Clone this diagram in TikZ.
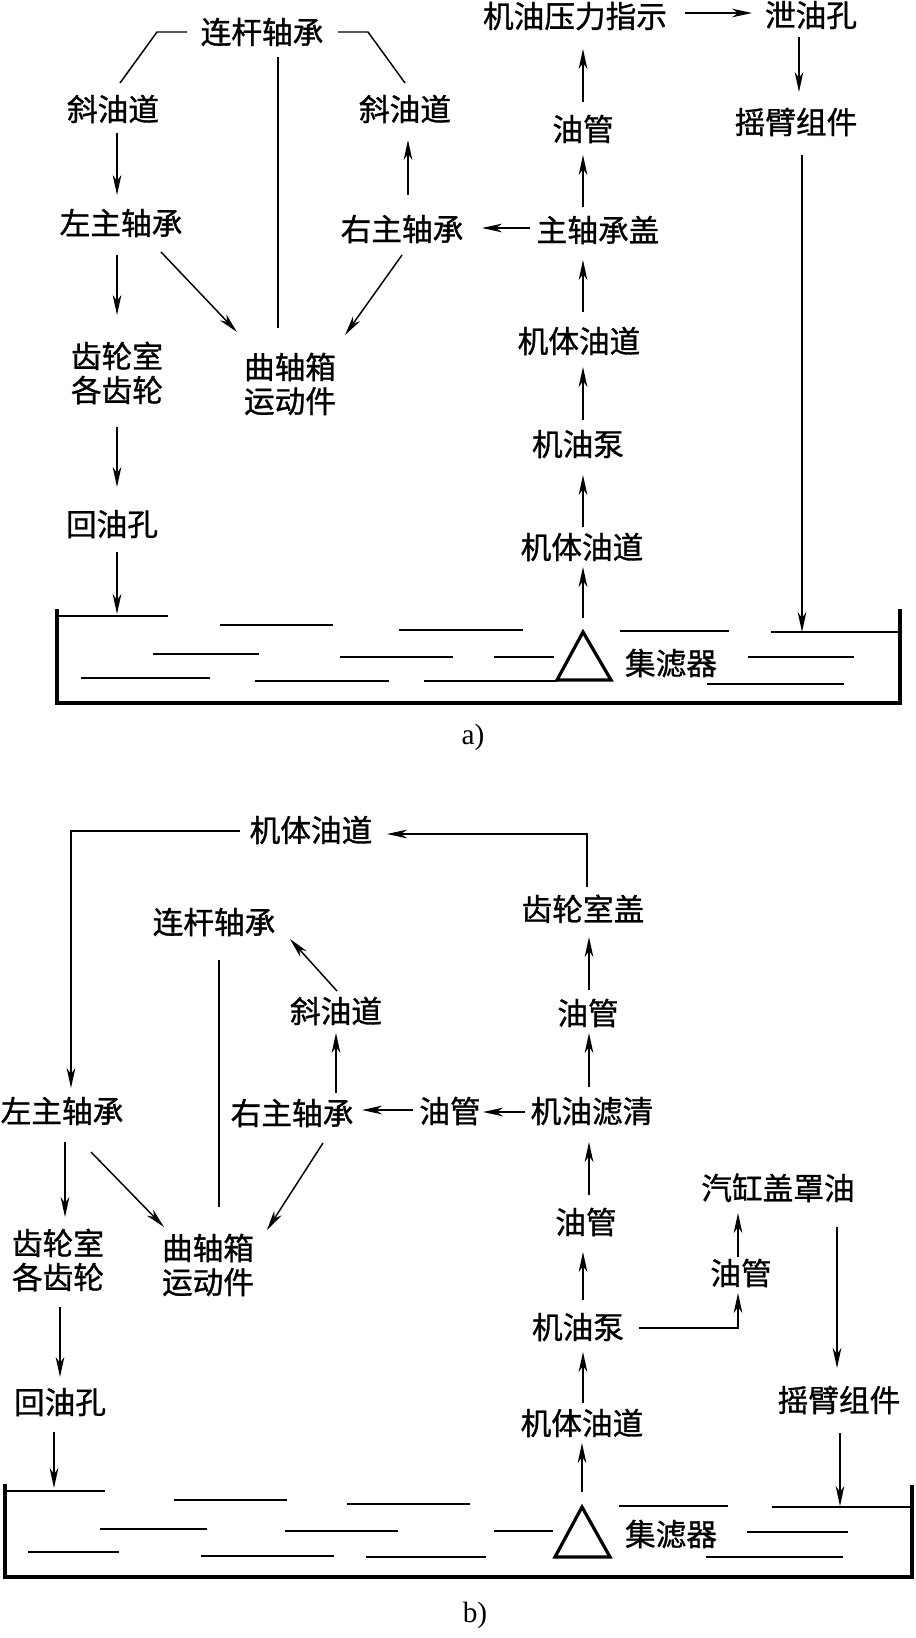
\documentclass[tikz,border=0pt]{standalone}
\usepackage{fontspec}
\setmainfont{Liberation Serif}
\newfontfamily\cjk[FakeBold=1]{Noto Sans CJK SC}
\usetikzlibrary{calc,arrows.meta}
\tikzset{
  lab/.style={font=\cjk\fontsize{23pt}{25.5pt}\selectfont, inner sep=0pt, text height=19.3pt, text depth=1.8pt},
  labtwo/.style={font=\cjk\fontsize{23pt}{25.5pt}\selectfont, inner sep=0pt, align=center},
  caplab/.style={font=\fontsize{22pt}{24pt}\selectfont, inner sep=0pt},
  arr/.style={line width=1.1pt, -{Stealth[length=15pt,width=6.5pt,inset=4.5pt]}},
  ln/.style={line width=1.1pt},
  wall/.style={line width=2.4pt, line join=miter},
  oil/.style={line width=1.2pt},
  tri/.style={line width=2.4pt, line join=miter},
}
\begin{document}
\begin{tikzpicture}[x=0.75pt,y=-0.75pt]
\fill[white] (0,0) rectangle (915,1638);
\useasboundingbox (0,0) rectangle (915,1638);

% ================= part a =================
\node[lab] (A_lg) at (262,32) {连杆轴承};
\node[lab] (A_xl) at (113,109) {斜油道};
\node[lab] (A_zl) at (121,223) {左主轴承};
\node[labtwo] (A_cl) at (117,373) {齿轮室\\各齿轮};
\node[labtwo] (A_qz) at (290,384) {曲轴箱\\运动件};
\node[lab] (A_xr) at (405,109) {斜油道};
\node[lab] (A_zr) at (402,229) {右主轴承};
\node[lab] (A_hy) at (112,524) {回油孔};
\node[lab] (A_yy) at (575,16) {机油压力指示};
\node[lab] (A_xy) at (811,15) {泄油孔};
\node[lab] (A_yb) at (796,122) {摇臂组件};
\node[lab] (A_yg) at (583,129) {油管};
\node[lab] (A_zg) at (598,230) {主轴承盖};
\node[lab] (A_jt1) at (579,341) {机体油道};
\node[lab] (A_bp) at (578,444) {机油泵};
\node[lab] (A_jt2) at (582,547) {机体油道};
\node[lab] (A_jl) at (671,663) {集滤器};
\node[caplab] (A_cap) at (473,737) {a)};
\coordinate (A_tri) at (583,632);
\coordinate (A_in1) at (117,614);
\coordinate (A_in2) at (802,632);

% sump a
\draw[wall] (57,609) -- (57,703) -- (900,703) -- (900,609);
\draw[oil] (57,616) -- (168,616);
\draw[oil] (220,625) -- (333,625);
\draw[oil] (399,630) -- (523,630);
\draw[oil] (620,631) -- (729,631);
\draw[oil] (771,632) -- (900,632);
\draw[oil] (153,654) -- (259,654);
\draw[oil] (340,657) -- (453,657);
\draw[oil] (494,657) -- (554,657);
\draw[oil] (748,657) -- (854,657);
\draw[oil] (81,678) -- (210,678);
\draw[oil] (255,681) -- (389,681);
\draw[oil] (424,681) -- (557,681);
\draw[oil] (707,684) -- (844,684);
\draw[tri] (A_tri) -- ($(A_tri)+(-26,48)$) -- ($(A_tri)+(28,48)$) -- cycle;

% connectors a
\draw[ln] ($(A_lg)+(-75,0)$) -- ($(A_lg)+(-105,0)$) -- ($(A_xl)+(7,-26)$);
\draw[ln] ($(A_lg)+(76,0)$) -- ($(A_lg)+(106,0)$) -- ($(A_xr)+(0,-26)$);
\draw[ln] ($(A_lg)+(16,25)$) -- ($(A_qz)+(-12,-56)$);
\draw[arr] ($(A_xl)+(4,24)$) -- ($(A_zl)+(-4,-28)$);
\draw[arr] ($(A_zl)+(-4,32)$) -- ($(A_cl)+(0,-58)$);
\draw[arr] ($(A_zl)+(40,29)$) -- ($(A_qz)+(-53,-52)$);
\draw[arr] ($(A_zr)+(0,26)$) -- ($(A_qz)+(55,-49)$);
\draw[arr] ($(A_zr)+(6,-34)$) -- ($(A_xr)+(3,31)$);
\draw[arr] ($(A_cl)+(0,54)$) -- ($(A_hy)+(5,-37)$);
\draw[arr] ($(A_hy)+(5,28)$) -- (A_in1);
\draw[arr] ($(A_yy)+(110,-3)$) -- ($(A_xy)+(-59,-2)$);
\draw[arr] ($(A_xy)+(-12,22)$) -- ($(A_yb)+(3,-30)$);
\draw[arr] ($(A_yb)+(6,33)$) -- (A_in2);
\draw[arr] ($(A_yg)+(0,-27)$) -- ($(A_yy)+(8,33)$);
\draw[arr] ($(A_zg)+(-15,-23)$) -- ($(A_yg)+(0,26)$);
\draw[arr] ($(A_zg)+(-68,-2)$) -- ($(A_zr)+(80,-1)$);
\draw[arr] ($(A_jt1)+(4,-29)$) -- ($(A_zg)+(-15,30)$);
\draw[arr] ($(A_bp)+(5,-24)$) -- ($(A_jt1)+(4,26)$);
\draw[arr] ($(A_jt2)+(1,-20)$) -- ($(A_bp)+(5,31)$);
\draw[arr] ($(A_tri)+(0,-14)$) -- ($(A_jt2)+(1,20)$);

% ================= part b =================
\node[lab] (B_jt0) at (311,830) {机体油道};
\node[lab] (B_lg) at (214,922) {连杆轴承};
\node[lab] (B_xy) at (336,1011) {斜油道};
\node[lab] (B_zl) at (62,1111) {左主轴承};
\node[lab] (B_zr) at (292,1113) {右主轴承};
\node[lab] (B_yg2) at (450,1111) {油管};
\node[lab] (B_lq) at (592,1111) {机油滤清};
\node[lab] (B_yg1) at (588,1013) {油管};
\node[lab] (B_cg) at (583,909) {齿轮室盖};
\node[lab] (B_yg3) at (586,1222) {油管};
\node[lab] (B_qg) at (778,1188) {汽缸盖罩油};
\node[lab] (B_yg4) at (741,1273) {油管};
\node[lab] (B_bp) at (578,1327) {机油泵};
\node[lab] (B_jt) at (582,1423) {机体油道};
\node[lab] (B_yb) at (839,1400) {摇臂组件};
\node[labtwo] (B_cl) at (58,1260) {齿轮室\\各齿轮};
\node[labtwo] (B_qz) at (208,1265) {曲轴箱\\运动件};
\node[lab] (B_hy) at (60,1402) {回油孔};
\node[lab] (B_jl) at (671,1534) {集滤器};
\node[caplab] (B_cap) at (475,1615) {b)};
\coordinate (B_tri) at (582,1507);
\coordinate (B_in1) at (54,1488);
\coordinate (B_in2) at (840,1506);

% sump b
\draw[wall] (5,1484) -- (5,1577) -- (912,1577) -- (912,1485);
\draw[oil] (5,1491) -- (105,1491);
\draw[oil] (174,1500) -- (287,1500);
\draw[oil] (347,1504) -- (470,1504);
\draw[oil] (619,1506) -- (728,1506);
\draw[oil] (772,1507) -- (912,1507);
\draw[oil] (100,1529) -- (207,1529);
\draw[oil] (285,1531) -- (398,1531);
\draw[oil] (494,1531) -- (553,1531);
\draw[oil] (747,1532) -- (848,1532);
\draw[oil] (28,1552) -- (119,1552);
\draw[oil] (201,1556) -- (334,1556);
\draw[oil] (366,1557) -- (486,1557);
\draw[oil] (706,1557) -- (843,1557);
\draw[tri] (B_tri) -- ($(B_tri)+(-27,50)$) -- ($(B_tri)+(28,50)$) -- cycle;

% connectors b
\draw[arr] ($(B_cg)+(4,-22)$) |- ($(B_jt0)+(76,4)$);
\draw[arr] ($(B_jt0)+(-71,1)$) -| ($(B_zl)+(9,-23)$);
\draw[arr] ($(B_xy)+(1,-20)$) -- ($(B_lg)+(76,17)$);
\draw[arr] ($(B_zr)+(44,-20)$) -- ($(B_xy)+(0,22)$);
\draw[ln] ($(B_lg)+(5,38)$) -- ($(B_qz)+(11,-58)$);
\draw[arr] ($(B_yg2)+(-37,-1)$) -- ($(B_zr)+(70,-3)$);
\draw[arr] ($(B_lq)+(-67,1)$) -- ($(B_yg2)+(33,1)$);
\draw[arr] ($(B_zl)+(3,31)$) -- ($(B_cl)+(7,-43)$);
\draw[arr] ($(B_zl)+(29,41)$) -- ($(B_qz)+(-44,-38)$);
\draw[arr] ($(B_zr)+(31,30)$) -- ($(B_qz)+(59,-35)$);
\draw[arr] ($(B_cl)+(2,47)$) -- ($(B_hy)+(0,-25)$);
\draw[arr] ($(B_hy)+(-6,30)$) -- (B_in1);
\draw[arr] ($(B_yg1)+(1,-23)$) -- ($(B_cg)+(6,28)$);
\draw[arr] ($(B_lq)+(-3,-24)$) -- ($(B_yg1)+(1,20)$);
\draw[arr] ($(B_yg3)+(3,-27)$) -- ($(B_lq)+(-3,31)$);
\draw[arr] ($(B_bp)+(5,-27)$) -- ($(B_yg3)+(-3,30)$);
\draw[arr] ($(B_jt)+(1,-20)$) -- ($(B_bp)+(5,25)$);
\draw[arr] ($(B_tri)+(0,-15)$) -- ($(B_jt)+(0,20)$);
\draw[arr] ($(B_bp)+(61,1)$) -| ($(B_yg4)+(-3,20)$);
\draw[arr] ($(B_yg4)+(-3,-16)$) -- ($(B_qg)+(-40,25)$);
\draw[arr] ($(B_qg)+(59,39)$) -- ($(B_yb)+(-2,-32)$);
\draw[arr] ($(B_yb)+(1,33)$) -- (B_in2);
\end{tikzpicture}
\end{document}
